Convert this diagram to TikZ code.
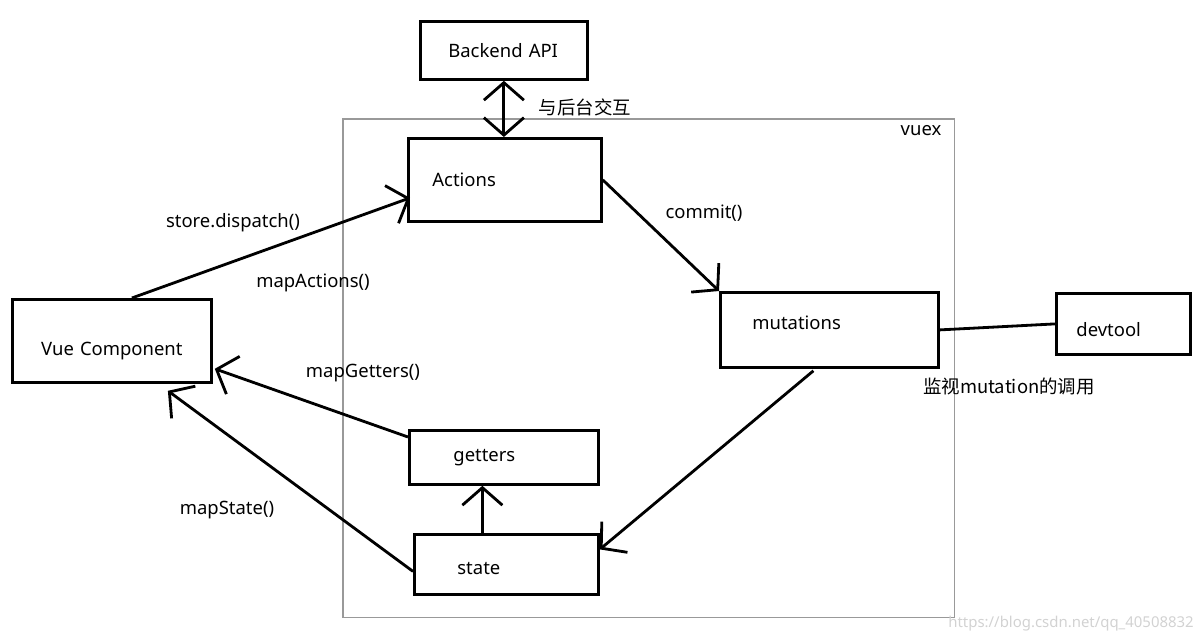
\documentclass[tikz,border=0pt]{standalone}
\usepackage{fontspec}
\setmainfont{Noto Sans}
\newfontfamily\cjkfont{Noto Sans CJK SC}
\usetikzlibrary{arrows.meta, positioning, calc}

\begin{document}
\begin{tikzpicture}[x=0.02cm, y=-0.02cm,
    box/.style={rectangle, draw=black, line width=1.6pt, align=left,
                anchor=north west, inner ysep=0pt,
                font=\fontsize{10.5}{12}\selectfont},
    frame/.style={rectangle, draw=gray!80, line width=0.9pt, anchor=north west},
    txt/.style={font=\fontsize{10.5}{12}\selectfont, inner sep=0pt},
    cjk/.style={font=\cjkfont\fontsize{10.5}{12}\selectfont, inner sep=0pt},
    link/.style={line width=1.6pt},
    flow/.style={link, -{Straight Barb[length=3.5mm, width=8mm]}},
    both/.style={link, {Straight Barb[length=3.5mm, width=8mm]}-{Straight Barb[length=3.5mm, width=8mm]}},
]
\useasboundingbox (0,0) rectangle (1202,642);

% vuex frame
\node[frame, minimum width=12.24cm, minimum height=9.98cm] (vuex) at (342,118) {};
\node[txt] (vuexlbl) at (921,131) {vuex};

% Boxes
\node[box, minimum height=1.16cm, text width=2.22cm, inner xsep=0.56cm] (api) at (419,20) {Backend API};
\node[box, minimum height=1.66cm, text width=2.90cm, inner xsep=0.48cm] (actions) at (407,137) {Actions};
\node[box, minimum height=1.66cm, text width=3.38cm, inner xsep=0.30cm, align=center,
      text height=0.67cm] (vue) at (11,298) {Vue Component};
\node[box, minimum height=1.50cm, text width=3.08cm, inner xsep=0.64cm,
      text depth=0.28cm] (mutations) at (719,291) {mutations};
\node[box, minimum height=1.22cm, text width=1.88cm, inner xsep=0.40cm,
      text height=0.51cm] (devtool) at (1055,292) {devtool};
\node[box, minimum height=1.08cm, text width=2.02cm, inner xsep=0.88cm] (getters) at (408,429) {getters};
\node[box, minimum height=1.20cm, text width=1.96cm, inner xsep=0.86cm,
      text height=0.39cm] (state) at (413,533) {state};

% Connectors
\draw[both] (api.south) -- (api.south |- actions.north);
\draw[flow] ($(vue.north)+(20,0)$) -- ($(actions.west)+(3,18)$);
\draw[flow] (actions.east) -- (mutations.north west);
\draw[link] (mutations.east) -- (devtool.west);
\draw[flow] ($(mutations.south)+(-16,2)$) -- ($(state.east)+(0,-15)$);
\coordinate (up) at ($(state.north)+(-24,0)$);
\draw[flow] (up) -- (up |- getters.south);
\draw[flow] ($(getters.north west)+(0,8)$) -- ($(vue.south east)+(2,-15)$);
\draw[flow] ($(state.west)+(0,7)$) -- ($(vue.south)+(56,7)$);

% Labels
\node[cjk] (talk) at (585,107) {与后台交互};
\node[txt] (dispatch) at (233,223) {store.dispatch()};
\node[txt] (mapactions) at (313,283) {mapActions()};
\node[txt] (commit) at (704,213) {commit()};
\node[cjk] (watch) at (1009,386) {监视mutation的调用};
\node[txt] (mapgetters) at (363,373) {mapGetters()};
\node[txt] (mapstate) at (227,510) {mapState()};

% Watermark
\node[font=\fontsize{8.5}{10}\selectfont, text=gray!35, inner sep=0pt] (mark) at (1071,624) {https://blog.csdn.net/qq\_40508832};
\end{tikzpicture}
\end{document}
